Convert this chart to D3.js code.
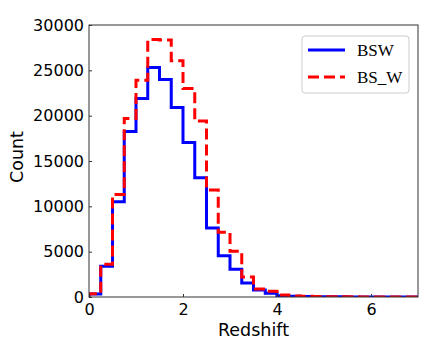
<!DOCTYPE html>
<html>
<head>
<meta charset="utf-8">
<script src="https://cdn.jsdelivr.net/npm/d3@7"></script>
<style>
  body { margin: 0; background: #fff; }
</style>
</head>
<body>
<svg width="436" height="354"></svg>
<script>
// bin edges: 0 .. 7 in steps of 0.25
const binWidth = 0.25;
const bsw  = [330, 3400, 10500, 18250, 21900, 25300, 24000, 20900, 17050, 13150, 7600, 4550, 3050, 1550, 780, 400, 150, 80, 50, 30, 20, 15, 10, 8, 5, 4, 3, 2];
const bs_w = [350, 3600, 11300, 19700, 23900, 28400, 28350, 26050, 23000, 19400, 11800, 7150, 5050, 2200, 880, 640, 230, 120, 70, 45, 30, 20, 15, 10, 8, 5, 4, 3];
const xTicks = [0, 2, 4, 6];
const yTicks = [0, 5000, 10000, 15000, 20000, 25000, 30000];

const svg = d3.select("svg");
const m = {left: 89, right: 418, top: 25, bottom: 297};
const sans = "DejaVu Sans, sans-serif";

const x = d3.scaleLinear().domain([0, 7]).range([m.left, m.right]);
const y = d3.scaleLinear().domain([0, 30000]).range([m.bottom, m.top]);

svg.append("clipPath").attr("id", "clip")
  .append("rect")
    .attr("x", m.left).attr("y", m.top)
    .attr("width", m.right - m.left).attr("height", m.bottom - m.top);

// step outline like histtype='step'
const stepPoints = vals => {
  let pts = [[0, 0]];
  vals.forEach((v, i) => {
    pts.push([i * binWidth, v]);
    pts.push([(i + 1) * binWidth, v]);
  });
  pts.push([vals.length * binWidth, 0]);
  return pts;
};
const line = d3.line().x(d => x(d[0])).y(d => y(d[1]));

const g = svg.append("g").attr("clip-path", "url(#clip)");
g.append("path")
  .attr("d", line(stepPoints(bsw)))
  .attr("fill", "none").attr("stroke", "#0000ff").attr("stroke-width", 3);
g.append("path")
  .attr("d", line(stepPoints(bs_w)))
  .attr("fill", "none").attr("stroke", "#ff0000").attr("stroke-width", 3)
  .attr("stroke-dasharray", "11,5");

// axes, ticks pointing inward
const xAxis = svg.append("g").attr("transform", `translate(0,${m.bottom})`)
  .call(d3.axisBottom(x).tickValues(xTicks).tickFormat(d3.format("d")).tickSizeInner(-3).tickSizeOuter(0));
const yAxis = svg.append("g").attr("transform", `translate(${m.left},0)`)
  .call(d3.axisLeft(y).tickValues(yTicks).tickFormat(d3.format("d")).tickSizeInner(-3).tickSizeOuter(0));
[xAxis, yAxis].forEach(a => {
  a.select(".domain").remove();
  a.selectAll("line").attr("stroke", "#333");
  a.selectAll("text").attr("fill", "#000")
    .style("font-family", sans).style("font-size", "16px");
});
xAxis.selectAll("text").attr("y", 7);
yAxis.selectAll("text").attr("x", -5);

// frame
svg.append("rect")
  .attr("x", m.left).attr("y", m.top)
  .attr("width", m.right - m.left).attr("height", m.bottom - m.top)
  .attr("fill", "none").attr("stroke", "#333").attr("stroke-width", 1);

svg.append("text")
  .attr("x", (m.left + m.right) / 2).attr("y", 336)
  .attr("text-anchor", "middle")
  .style("font-family", sans).style("font-size", "17.5px")
  .text("Redshift");
svg.append("text")
  .attr("transform", `translate(23,${(m.top + m.bottom) / 2 - 4}) rotate(-90)`)
  .attr("text-anchor", "middle")
  .style("font-family", sans).style("font-size", "17.5px")
  .text("Count");

// legend
const leg = svg.append("g");
leg.append("rect")
  .attr("x", 302).attr("y", 36).attr("width", 107).attr("height", 57)
  .attr("rx", 3).attr("fill", "#fff").attr("stroke", "#ccc").attr("stroke-width", 1);
const items = [
  {name: "BSW", color: "#0000ff", dash: null},
  {name: "BS_W", color: "#ff0000", dash: "11,5"}
];
items.forEach((it, i) => {
  const yy = 50 + i * 27;
  leg.append("line")
    .attr("x1", 308).attr("x2", 345).attr("y1", yy).attr("y2", yy)
    .attr("stroke", it.color).attr("stroke-width", 3)
    .attr("stroke-dasharray", it.dash);
  leg.append("text")
    .attr("x", 357).attr("y", yy + 6)
    .style("font-family", "Liberation Serif, serif").style("font-size", "17px")
    .text(it.name);
});
</script>
</body>
</html>
